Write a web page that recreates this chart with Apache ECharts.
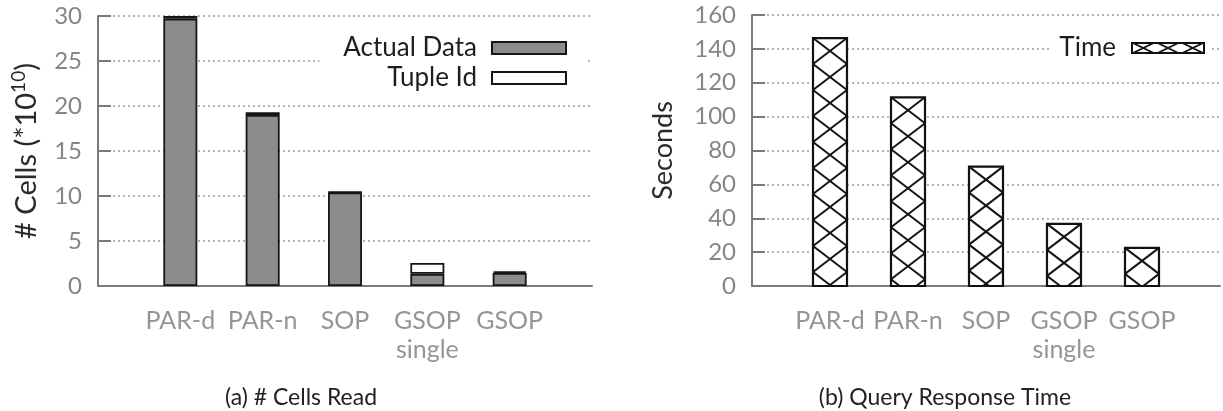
<!DOCTYPE html>
<html>
<head>
<meta charset="utf-8">
<script src="https://cdn.jsdelivr.net/npm/echarts@6/dist/echarts.min.js"></script>
<style>
html,body{margin:0;padding:0;background:#fff;}
#c{width:1223px;height:411px;}
</style>
</head>
<body>
<div id="c"></div>
<script>
// ---- data ----
var categories = ['', 'PAR-d', 'PAR-n', 'SOP', 'GSOP\nsingle', 'GSOP', ''];
var actualData = [null, 29.7, 19.0, 10.4, 1.35, 1.45, null];
var tupleId    = [null, 0.3, 0.3, 0.05, 1.2, 0.2, null];
var timeSec    = [null, 146.4, 111.4, 70.5, 36.7, 22.5, null];
var cellsTicks = {min: 0, max: 30, interval: 5};
var timeTicks  = {min: 0, max: 160, interval: 20};

var FONT = 'Lato';
var BAR_W = 34;
var HATCH_PERIOD = 26;

// hatched legend swatch
function hatchIcon() {
  var cv = document.createElement('canvas');
  cv.width = 74; cv.height = 12;
  var ctx = cv.getContext('2d');
  ctx.fillStyle = '#fff'; ctx.fillRect(0, 0, 74, 12);
  ctx.strokeStyle = '#111'; ctx.lineWidth = 1.8;
  var cw = 74 / 3;
  for (var i = 0; i < 3; i++) {
    ctx.beginPath();
    ctx.moveTo(i * cw, 0); ctx.lineTo((i + 1) * cw, 12);
    ctx.moveTo((i + 1) * cw, 0); ctx.lineTo(i * cw, 12);
    ctx.stroke();
  }
  ctx.lineWidth = 2;
  ctx.strokeRect(1, 1, 72, 10);
  return cv.toDataURL();
}

function hatchBar(params, api) {
  var xi = api.value(0), v = api.value(1);
  if (v == null || isNaN(v)) return;
  var top = api.coord([xi, v]);
  var base = api.coord([xi, 0]);
  var w = BAR_W;
  var x0 = top[0] - w / 2, x1 = x0 + w;
  var yT = top[1], yB = base[1];
  var P = HATCH_PERIOD;
  var m = P / w;
  var children = [{
    type: 'rect',
    shape: {x: x0, y: yT, width: w, height: yB - yT},
    style: {fill: '#fff', stroke: 'none'}
  }];
  var nK = Math.ceil((yB - yT) / P) + 2;
  for (var k = -2; k <= nK; k++) {
    var c = yT + k * P;
    var xa = x0 + (yT - c) / m, xb = x0 + (yB - c) / m;
    xa = Math.max(xa, x0); xb = Math.min(xb, x1);
    if (xb > xa) {
      children.push({type: 'line', shape: {x1: xa, y1: c + m * (xa - x0), x2: xb, y2: c + m * (xb - x0)},
        style: {stroke: '#151515', lineWidth: 2}});
    }
    var xa2 = x1 - (yB - c) / m, xb2 = x1 - (yT - c) / m;
    xa2 = Math.max(xa2, x0); xb2 = Math.min(xb2, x1);
    if (xb2 > xa2) {
      children.push({type: 'line', shape: {x1: xa2, y1: c + m * (x1 - xa2), x2: xb2, y2: c + m * (x1 - xb2)},
        style: {stroke: '#151515', lineWidth: 2}});
    }
  }
  children.push({
    type: 'rect',
    shape: {x: x0, y: yT, width: w, height: yB - yT},
    style: {fill: 'none', stroke: '#111', lineWidth: 2.2}
  });
  return {type: 'group', children: children};
}

var axisGray = '#7a7a7a';
var splitLine = {show: true, lineStyle: {type: [2, 3], color: '#9a9a9a', width: 1.6}};

function yAxisCommon(t, gridIndex, name, nameGap, fs, rich) {
  return {
    type: 'value', gridIndex: gridIndex,
    min: t.min, max: t.max, interval: t.interval,
    name: name, nameLocation: 'middle', nameGap: nameGap, nameRotate: 90,
    nameTextStyle: {fontFamily: FONT, fontSize: fs, color: '#2a2a2a', rich: rich || {}},
    axisLine: {show: true, lineStyle: {color: axisGray, width: 2}},
    axisTick: {show: true, inside: true, length: 13, lineStyle: {color: axisGray, width: 2}},
    axisLabel: {fontFamily: FONT, fontSize: 24, color: '#858585', margin: 16, padding: [7, 0, 0, 0]},
    splitLine: splitLine
  };
}

function xAxisCommon(gridIndex) {
  return {
    type: 'category', gridIndex: gridIndex, data: categories, boundaryGap: false,
    axisLine: {show: true, lineStyle: {color: axisGray, width: 2}},
    axisTick: {show: false},
    splitLine: {show: false},
    axisLabel: {interval: 0, fontFamily: FONT, fontSize: 25, color: '#959595', margin: 20, lineHeight: 29}
  };
}

var chart = echarts.init(document.getElementById('c'), null, {renderer: 'canvas'});
chart.setOption({
  animation: false,
  backgroundColor: '#fff',
  title: [
    {text: '(a) # Cells Read', left: 296, top: 381, textAlign: 'center',
      textStyle: {fontFamily: FONT, fontSize: 23, fontWeight: 'normal', color: '#222'}},
    {text: '(b) Query Response Time', left: 940, top: 381, textAlign: 'center',
      textStyle: {fontFamily: FONT, fontSize: 23, fontWeight: 'normal', color: '#222'}}
  ],
  grid: [
    {left: 98, top: 16, width: 494, height: 270},
    {left: 752, top: 15, width: 477, height: 271}
  ],
  legend: [
    {data: ['Actual Data', 'Tuple Id'], orient: 'vertical', align: 'right',
      right: 638, top: 30, padding: [5, 18, 5, 24], itemGap: 4,
      itemWidth: 74, itemHeight: 12, icon: 'rect', backgroundColor: '#fff',
      selectedMode: false,
      textStyle: {fontFamily: FONT, fontSize: 26, color: '#1e1e1e', lineHeight: 26, padding: [0, 10, 0, 0]}},
    {data: [{name: 'Time', icon: 'image://' + hatchIcon()}], orient: 'vertical', align: 'right',
      right: 11, top: 33, padding: [2, 7, 2, 8], itemGap: 4,
      itemWidth: 74, itemHeight: 12, backgroundColor: '#fff',
      selectedMode: false,
      textStyle: {fontFamily: FONT, fontSize: 26, color: '#1e1e1e', lineHeight: 26, padding: [0, 10, 0, 0]}}
  ],
  xAxis: [xAxisCommon(0), xAxisCommon(1)],
  yAxis: [
    yAxisCommon(cellsTicks, 0, '# Cells (*10{sup|10})', 53, 29,
      {sup: {fontFamily: FONT, fontSize: 19, color: '#2a2a2a', verticalAlign: 'top', lineHeight: 36}}),
    yAxisCommon(timeTicks, 1, 'Seconds', 75, 27)
  ],
  series: [
    {name: 'Actual Data', type: 'bar', stack: 'cells', xAxisIndex: 0, yAxisIndex: 0,
      barWidth: BAR_W, data: actualData,
      itemStyle: {color: '#8c8c8c', borderColor: '#161616', borderWidth: 1.8}},
    {name: 'Tuple Id', type: 'bar', stack: 'cells', xAxisIndex: 0, yAxisIndex: 0,
      barWidth: BAR_W, data: tupleId,
      itemStyle: {color: '#ffffff', borderColor: '#161616', borderWidth: 1.8}},
    {name: 'Time', type: 'custom', xAxisIndex: 1, yAxisIndex: 1, clip: false,
      renderItem: hatchBar,
      itemStyle: {color: '#fff', borderColor: '#111'},
      encode: {x: 0, y: 1},
      data: timeSec.map(function (v, i) { return [i, v]; }).filter(function (d) { return d[1] != null; })}
  ]
});
</script>
</body>
</html>
